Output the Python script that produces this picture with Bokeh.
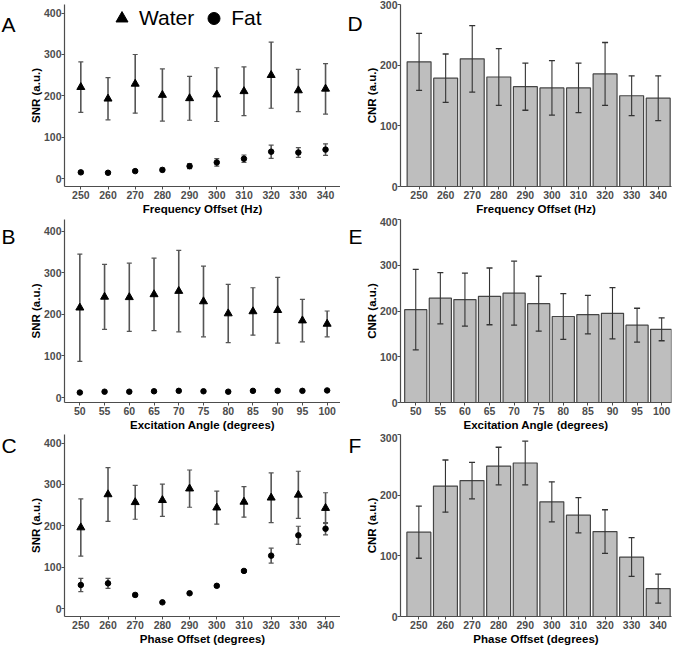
from bokeh.plotting import figure
from bokeh.models import (ColumnDataSource, Whisker, TeeHead, Label, Legend,
                          LegendItem, Range1d, FixedTicker)
from bokeh.layouts import column, row
from bokeh.embed import file_html
from bokeh.resources import INLINE

# ---------------- data ----------------
freq = [250, 260, 270, 280, 290, 300, 310, 320, 330, 340]
angle = [50, 55, 60, 65, 70, 75, 80, 85, 90, 95, 100]
phase = [250, 260, 270, 280, 290, 300, 310, 320, 330, 340]

# SNR vs frequency offset (A)
freq_water_mean = [221, 193, 229, 202, 194, 203, 211, 250, 213, 217]
freq_water_sd = [61, 51, 71, 63, 53, 65, 59, 80, 51, 61]
freq_fat_mean = [15, 14, 18, 21, 30, 39, 48, 65, 63, 70]
freq_fat_sd = [3, 2, 3, 4, 6, 9, 9, 16, 12, 14]

# SNR vs excitation angle (B)
angle_water_mean = [216, 242, 241, 248, 256, 231, 202, 207, 210, 185, 177]
angle_water_sd = [129, 78, 82, 87, 98, 85, 70, 57, 79, 51, 31]
angle_fat_mean = [12, 14, 14, 15, 16, 15, 14, 16, 16, 16, 17]
angle_fat_sd = [2, 2, 2, 2, 2, 2, 2, 2, 2, 2, 2]

# SNR vs phase offset (C)
phase_water_mean = [196, 276, 257, 262, 290, 244, 258, 268, 275, 243]
phase_water_sd = [69, 65, 41, 39, 45, 40, 37, 60, 57, 37]
phase_fat_mean = [57, 61, 33, 15, 37, 55, 91, 128, 177, 193]
phase_fat_sd = [16, 12, 4, 2, 3, 3, 3, 18, 22, 15]

# CNR bars (D, E, F)
cnr_freq_mean = [206, 179, 211, 181, 165, 163, 163, 186, 150, 146]
cnr_freq_sd = [47, 40, 55, 47, 39, 45, 41, 52, 33, 37]
cnr_angle_mean = [203, 228, 225, 232, 239, 216, 188, 192, 195, 169, 160]
cnr_angle_sd = [88, 56, 58, 62, 70, 60, 50, 42, 56, 37, 25]
cnr_phase_mean = [139, 215, 224, 248, 253, 189, 167, 140, 98, 46]
cnr_phase_sd = [43, 43, 30, 31, 36, 33, 29, 36, 32, 24]

FONT = "Liberation Sans"
TICK_COLOR = "#4d4d4d"
LEFT_STRIP = 16   # width of the strip holding panel letters A-C
RIGHT_STRIP = 22  # width of the strip holding panel letters D-F

# row geometry: (height, top border, bottom border) shared by all figures of a row
ROW1 = (217, 4, 30)
ROW2 = (216, 2, 31)
ROW3 = (214, 1, 30)


def style_axes(p, xticks, yticks, xlabel, ylabel):
    p.xaxis.ticker = FixedTicker(ticks=xticks)
    p.yaxis.ticker = FixedTicker(ticks=yticks)
    p.xaxis.axis_label = xlabel
    p.yaxis.axis_label = ylabel
    for ax in (p.xaxis, p.yaxis):
        ax.axis_line_color = "#4d4d4d"
        ax.axis_line_width = 1.2
        ax.major_tick_line_color = "#4d4d4d"
        ax.major_tick_out = 3
        ax.major_tick_in = 0
        ax.minor_tick_line_color = None
        ax.major_label_text_font = FONT
        ax.major_label_text_font_style = "bold"
        ax.major_label_text_font_size = "10.5px"
        ax.major_label_text_color = TICK_COLOR
        ax.axis_label_text_font = FONT
        ax.axis_label_text_font_style = "bold"
        ax.axis_label_text_font_size = "11.5px"
        ax.axis_label_text_color = "#000000"
    p.xaxis.major_label_standoff = 1
    p.xaxis.axis_label_standoff = 1
    p.yaxis.major_label_standoff = 0
    p.yaxis.axis_label_standoff = -1
    p.xgrid.grid_line_color = None
    p.ygrid.grid_line_color = None
    p.outline_line_color = None


def letter_fig(letter, width, rowgeom, lx, baseline_from_top):
    height, top, bottom = rowgeom
    p = figure(width=width, height=height, x_range=Range1d(0, width),
               y_range=Range1d(0, height), output_backend="svg", toolbar_location=None,
               x_axis_location=None, y_axis_location=None,
               min_border_top=top, min_border_bottom=bottom,
               min_border_left=0, min_border_right=0)
    p.outline_line_color = None
    p.xgrid.grid_line_color = None
    p.ygrid.grid_line_color = None
    ref_bottom = height - 22   # empirically observed reference for screen-unit y
    p.add_layout(Label(x=lx, y=ref_bottom - baseline_from_top,
                       x_units="screen", y_units="screen",
                       text=letter, text_font=FONT, text_font_size="21px",
                       text_color="#000000", text_baseline="alphabetic", text_align="left"))
    return p


def make_fig(width, rowgeom, xr, yr, left, right):
    height, top, bottom = rowgeom
    p = figure(width=width, height=height, x_range=Range1d(*xr), y_range=Range1d(*yr),
               output_backend="svg", toolbar_location=None,
               min_border_top=top, min_border_bottom=bottom,
               min_border_left=left, min_border_right=right)
    p.background_fill_color = "white"
    p.border_fill_color = "white"
    return p


def snr_panel(x, wm, ws, fm, fs, xr, yr, xlabel, rowgeom, legend_pos=None):
    p = make_fig(340 - LEFT_STRIP, rowgeom, xr, yr, 64 - LEFT_STRIP, 0)
    ws_src = ColumnDataSource(dict(x=x, y=wm,
                                   upper=[m + s for m, s in zip(wm, ws)],
                                   lower=[m - s for m, s in zip(wm, ws)]))
    fs_src = ColumnDataSource(dict(x=x, y=fm,
                                   upper=[m + s for m, s in zip(fm, fs)],
                                   lower=[m - s for m, s in zip(fm, fs)]))
    for src in (ws_src, fs_src):
        w = Whisker(source=src, base="x", upper="upper", lower="lower",
                    line_color="#555555", line_width=1.6,
                    upper_head=TeeHead(size=5, line_color="#555555", line_width=1.2),
                    lower_head=TeeHead(size=5, line_color="#555555", line_width=1.2))
        p.add_layout(w)
    rw = p.scatter("x", "y", source=ws_src, marker="triangle", size=8, color="black")
    rf = p.scatter("x", "y", source=fs_src, marker="circle", size=5.5, color="black")
    style_axes(p, x, [0, 100, 200, 300, 400], xlabel, "SNR (a.u.)")
    if legend_pos is not None:
        leg = Legend(items=[LegendItem(label="Water", renderers=[rw]),
                            LegendItem(label="Fat", renderers=[rf])],
                     orientation="horizontal", location=legend_pos,
                     glyph_width=35, glyph_height=30, label_standoff=0, spacing=2,
                     padding=0, margin=0, border_line_alpha=0, background_fill_alpha=0,
                     label_text_font=FONT, label_text_font_size="21px",
                     label_text_color="#000000")
        p.add_layout(leg)
    return p


def cnr_panel(x, m, s, width_bar, xr, yr, yticks, xlabel, rowgeom):
    p = make_fig(336 - RIGHT_STRIP, rowgeom, xr, yr, 56 - RIGHT_STRIP, 5)
    src = ColumnDataSource(dict(x=x, top=m,
                                upper=[a + b for a, b in zip(m, s)],
                                lower=[a - b for a, b in zip(m, s)]))
    p.vbar(x="x", top="top", bottom=0, width=width_bar, source=src,
           fill_color="#bebebe", line_color="#454545", line_width=1.2)
    w = Whisker(source=src, base="x", upper="upper", lower="lower",
                line_color="#333333", line_width=1.1, level="overlay",
                upper_head=TeeHead(size=6, line_color="#333333", line_width=1.3),
                lower_head=TeeHead(size=6, line_color="#333333", line_width=1.3))
    p.add_layout(w)
    style_axes(p, x, yticks, xlabel, "CNR (a.u.)")
    return p


# Row 1
pA = snr_panel(freq, freq_water_mean, freq_water_sd, freq_fat_mean, freq_fat_sd,
               (244, 345.5), (-19.2, 420.9), "Frequency Offset (Hz)", ROW1,
               legend_pos=(40, 153))
pD = cnr_panel(freq, cnr_freq_mean, cnr_freq_sd, 9, (243, 345), (0, 300.8),
               [0, 100, 200, 300], "Frequency Offset (Hz)", ROW1)
# Row 2
pB = snr_panel(angle, angle_water_mean, angle_water_sd, angle_fat_mean, angle_fat_sd,
               (46.9, 102.7), (-12.0, 428.1), "Excitation Angle (degrees)", ROW2)
pE = cnr_panel(angle, cnr_angle_mean, cnr_angle_sd, 4.5, (46.9, 102.0), (0, 400),
               [0, 100, 200, 300, 400], "Excitation Angle (degrees)", ROW2)
# Row 3
pC = snr_panel(phase, phase_water_mean, phase_water_sd, phase_fat_mean, phase_fat_sd,
               (244, 345.5), (-19.2, 420.9), "Phase Offset (degrees)", ROW3)
pF = cnr_panel(phase, cnr_phase_mean, cnr_phase_sd, 9, (243.1, 345), (0, 300),
               [0, 100, 200, 300], "Phase Offset (degrees)", ROW3)

lA = letter_fig("A", LEFT_STRIP, ROW1, 1, 33)
lD = letter_fig("D", RIGHT_STRIP, ROW1, 7, 32)
lB = letter_fig("B", LEFT_STRIP, ROW2, 1, 28)
lE = letter_fig("E", RIGHT_STRIP, ROW2, 8, 28)
lC = letter_fig("C", LEFT_STRIP, ROW3, 1, 21)
lF = letter_fig("F", RIGHT_STRIP, ROW3, 8, 21)

rows = [row(lA, pA, lD, pD), row(lB, pB, lE, pE), row(lC, pC, lF, pF)]
for r in rows:
    r.spacing = 0
layout = column(*rows)
layout.spacing = 0

html = file_html(layout, INLINE)
open("out.html", "w").write(html)
